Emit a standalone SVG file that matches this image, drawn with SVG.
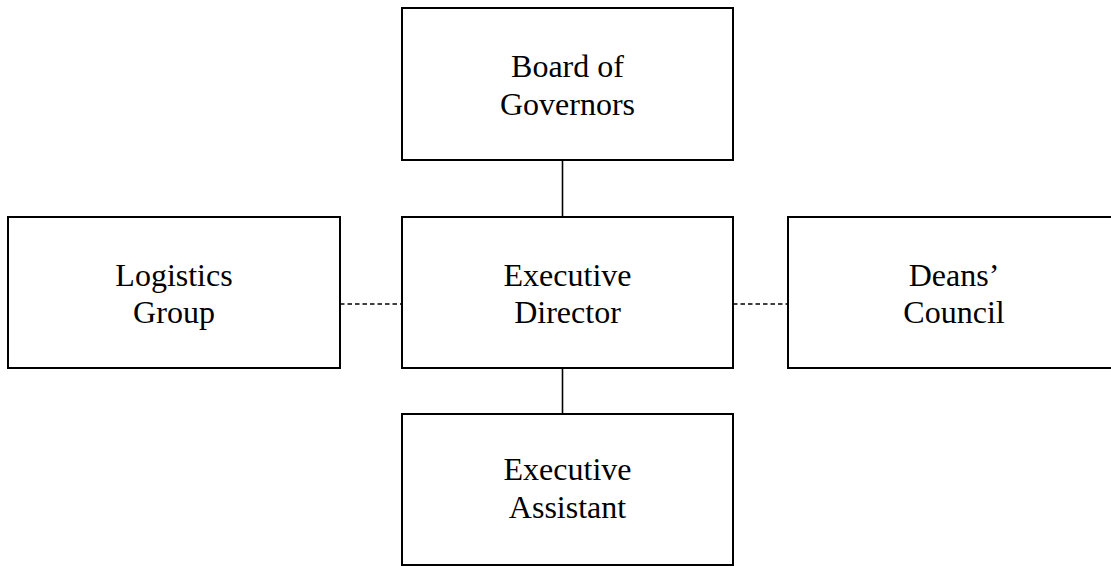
<svg xmlns="http://www.w3.org/2000/svg" width="1111" height="567" viewBox="0 0 1111 567">
<style>
.box{fill:#fff;stroke:#000;stroke-width:2}
.lbl{font-family:"Liberation Serif","Times New Roman",serif;font-size:32px;fill:#000;text-anchor:middle}
.solid{stroke:#000;stroke-width:1.6;fill:none}
.dash{stroke:#000;stroke-width:1.6;fill:none;stroke-dasharray:4.5 3}
</style>
<rect width="1111" height="567" fill="#fff"/>
<g id="connectors">
<line class="solid" x1="562.5" y1="160" x2="562.5" y2="217"/>
<line class="solid" x1="562.5" y1="368" x2="562.5" y2="414"/>
<line class="dash" x1="340" y1="304" x2="402" y2="304"/>
<line class="dash" x1="733" y1="304" x2="788" y2="304"/>
</g>
<g id="board">
<rect class="box" x="402" y="8" width="331" height="152"/>
<text class="lbl" x="567.5" y="76.5">Board of</text>
<text class="lbl" x="567.5" y="114.5">Governors</text>
</g>
<g id="logistics">
<rect class="box" x="8" y="217" width="332" height="151"/>
<text class="lbl" x="174" y="286">Logistics</text>
<text class="lbl" x="174" y="323">Group</text>
</g>
<g id="director">
<rect class="box" x="402" y="217" width="331" height="151"/>
<text class="lbl" x="567.5" y="286">Executive</text>
<text class="lbl" x="567.5" y="323">Director</text>
</g>
<g id="deans">
<rect class="box" x="788" y="217" width="332" height="151"/>
<text class="lbl" x="954" y="286">Deans’</text>
<text class="lbl" x="954" y="323">Council</text>
</g>
<g id="assistant">
<rect class="box" x="402" y="414" width="331" height="151"/>
<text class="lbl" x="567.5" y="480">Executive</text>
<text class="lbl" x="567.5" y="518">Assistant</text>
</g>
</svg>
